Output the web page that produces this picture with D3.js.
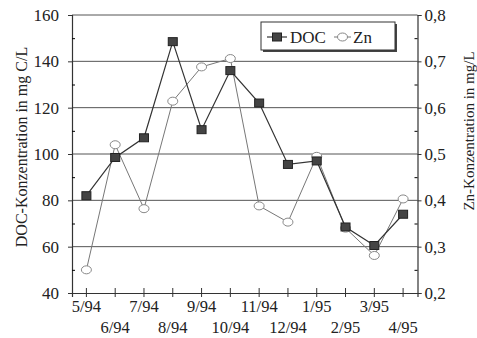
<!DOCTYPE html>
<html>
<head>
<meta charset="utf-8">
<script src="https://cdn.jsdelivr.net/npm/d3@7"></script>
<style>
  html, body { margin: 0; padding: 0; background: #fff; }
  svg { display: block; font-family: "Liberation Serif", "Times New Roman", serif; }
</style>
</head>
<body>
<svg id="chart" width="477" height="338"></svg>
<script>
// Monthly sampling dates
const months = ["5/94", "6/94", "7/94", "8/94", "9/94", "10/94", "11/94", "12/94", "1/95", "2/95", "3/95", "4/95"];
// Dissolved organic carbon, mg C/L
const docValues = [82, 98.5, 107, 148.5, 110.5, 136, 122, 95.5, 97, 68.5, 60.5, 74];
// Zinc, mg/L
const znValues = [0.25, 0.52, 0.382, 0.614, 0.688, 0.706, 0.388, 0.353, 0.495, 0.34, 0.281, 0.403];
// Axis ticks
const docTicks = [40, 60, 80, 100, 120, 140, 160];
const docMinor = [50, 70, 90, 110, 130, 150];
const znTicks = [0.2, 0.3, 0.4, 0.5, 0.6, 0.7, 0.8];
const znMinor = [0.25, 0.35, 0.45, 0.55, 0.65, 0.75];

const svg = d3.select("#chart");
const plotLeft = 72, plotRight = 417.5, plotTop = 15, plotBottom = 293;

const x = d3.scaleBand().domain(months).range([plotLeft, plotRight]);
const xc = d => x(d) + x.bandwidth() / 2;
const yDoc = d3.scaleLinear().domain([40, 160]).range([plotBottom, plotTop]);
const yZn = d3.scaleLinear().domain([0.2, 0.8]).range([plotBottom, plotTop]);
const fmtZn = v => d3.format(".1f")(v).replace(".", ",");

// Horizontal gridlines
svg.append("g").selectAll("line").data(docTicks.slice(1)).join("line")
  .attr("x1", plotLeft).attr("x2", plotRight)
  .attr("y1", d => yDoc(d)).attr("y2", d => yDoc(d))
  .attr("stroke", "#555").attr("stroke-width", 1);

// Left axis
const gL = svg.append("g").attr("transform", `translate(${plotLeft},0)`)
  .call(d3.axisLeft(yDoc).tickValues(docTicks).tickSize(4).tickPadding(9).tickFormat(d3.format("d")));
svg.append("g").attr("transform", `translate(${plotLeft},0)`)
  .call(d3.axisRight(yDoc).tickValues(docMinor).tickSize(3).tickFormat(""))
  .select(".domain").remove();

// Right axis
const gR = svg.append("g").attr("transform", `translate(${plotRight},0)`)
  .call(d3.axisRight(yZn).tickValues(znTicks).tickSize(4).tickPadding(3).tickFormat(fmtZn));
svg.append("g").attr("transform", `translate(${plotRight},0)`)
  .call(d3.axisLeft(yZn).tickValues(znMinor).tickSize(3).tickFormat(""))
  .select(".domain").remove();

// Bottom axis with crossing ticks
const gB = svg.append("g").attr("transform", `translate(0,${plotBottom})`)
  .call(d3.axisBottom(x).tickSize(4).tickFormat(""));
gB.selectAll(".tick line").attr("y1", -5).attr("y2", 4);
gB.selectAll(".tick").append("text")
  .attr("y", (d, i) => i % 2 === 0 ? 19 : 40)
  .attr("text-anchor", "middle")
  .text(d => d);

[gL, gR, gB].forEach(g => {
  g.selectAll(".domain").attr("stroke", "#333").attr("stroke-width", 1.2);
  g.selectAll(".tick line").attr("stroke", "#333");
  g.selectAll(".tick text").attr("fill", "#222").style("font-size", "17px")
    .style("font-family", "Liberation Serif, serif");
});
gB.selectAll(".tick text").style("font-size", "16.5px");

// Axis titles
svg.append("text")
  .attr("transform", "translate(27,147) rotate(-90)")
  .attr("text-anchor", "middle").attr("fill", "#222")
  .style("font-size", "16px")
  .text("DOC-Konzentration in mg C/L");
svg.append("text")
  .attr("transform", "translate(474,131) rotate(-90)")
  .attr("text-anchor", "middle").attr("fill", "#222")
  .style("font-size", "15px")
  .text("Zn-Konzentration in mg/L");

// Zn series
svg.append("path").datum(znValues)
  .attr("fill", "none").attr("stroke", "#777").attr("stroke-width", 1)
  .attr("d", d3.line().x((d, i) => xc(months[i])).y(d => yZn(d)));
svg.append("g").selectAll("ellipse").data(znValues).join("ellipse")
  .attr("cx", (d, i) => xc(months[i])).attr("cy", d => yZn(d))
  .attr("rx", 5).attr("ry", 4)
  .attr("fill", "#fff").attr("stroke", "#888").attr("stroke-width", 1);

// DOC series
svg.append("path").datum(docValues)
  .attr("fill", "none").attr("stroke", "#333").attr("stroke-width", 1.2)
  .attr("d", d3.line().x((d, i) => xc(months[i])).y(d => yDoc(d)));
svg.append("g").selectAll("rect").data(docValues).join("rect")
  .attr("x", (d, i) => xc(months[i]) - 4.5).attr("y", d => yDoc(d) - 4)
  .attr("width", 9).attr("height", 8)
  .attr("fill", "#444").attr("stroke", "#222").attr("stroke-width", 1);

// Legend
const lg = svg.append("g").attr("transform", "translate(261,22)");
lg.append("rect").attr("x", 2).attr("y", 2).attr("width", 134).attr("height", 28).attr("fill", "#444");
lg.append("rect").attr("width", 134).attr("height", 28).attr("fill", "#fff").attr("stroke", "#333").attr("stroke-width", 1);
lg.append("line").attr("x1", 6).attr("x2", 26).attr("y1", 15).attr("y2", 15).attr("stroke", "#333").attr("stroke-width", 1.2);
lg.append("rect").attr("x", 11.5).attr("y", 11).attr("width", 9).attr("height", 8).attr("fill", "#444").attr("stroke", "#222");
lg.append("text").attr("x", 29).attr("y", 21).attr("fill", "#222").style("font-size", "17px").text("DOC");
lg.append("line").attr("x1", 73).attr("x2", 90).attr("y1", 15).attr("y2", 15).attr("stroke", "#777");
lg.append("ellipse").attr("cx", 81.5).attr("cy", 15).attr("rx", 5).attr("ry", 4).attr("fill", "#fff").attr("stroke", "#888");
lg.append("text").attr("x", 92).attr("y", 21).attr("fill", "#222").style("font-size", "17px").text("Zn");
</script>
</body>
</html>
